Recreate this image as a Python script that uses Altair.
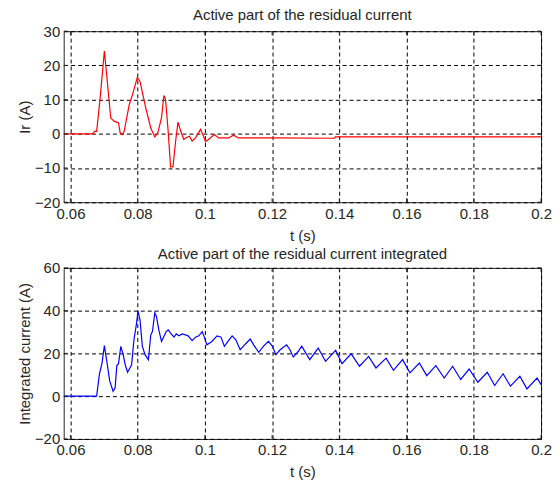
import altair as alt
import pandas as pd

# ---- data ----
t_ir = [0.058, 0.0666, 0.0672, 0.0678, 0.0688, 0.0701, 0.0720, 0.0730, 0.0743, 0.0748,
        0.0755, 0.0760, 0.0775, 0.0786, 0.0799, 0.0807, 0.0824, 0.0839, 0.0851, 0.0860,
        0.0871, 0.0878, 0.0883, 0.0890, 0.0898, 0.0905, 0.0913, 0.0920, 0.0928, 0.0937,
        0.0947, 0.0954, 0.0962, 0.0972, 0.0987, 0.0994, 0.1002, 0.1016, 0.1028, 0.1041,
        0.1055, 0.1070, 0.1085, 0.1100, 0.1200, 0.1385, 0.1388, 0.2]
ir = [0, 0, 0.7, 0.7, 10.0, 24.2, 4.6, 3.7, 3.2, 0.3,
      -0.2, 0.8, 8.5, 11.9, 16.5, 15.3, 7.6, 1.7, -0.9, 0.3,
      4.7, 11.2, 10.0, 1.7, -9.7, -9.7, -2.1, 3.4, 0.8, -1.6,
      -1.0, -0.7, -2.1, -1.2, 1.3, -0.2, -2.3, -1.2, -0.2, -1.2,
      -1.2, -1.2, -0.4, -1.2, -1.2, -1.3, -0.9, -0.9]

t_int = [0.058, 0.0678, 0.0686, 0.0694, 0.0701, 0.0709, 0.0717, 0.0727, 0.0733, 0.0738,
         0.0743, 0.0750, 0.0757, 0.0763, 0.0770, 0.0777, 0.0782, 0.0789, 0.0796, 0.0801,
         0.0807, 0.0814, 0.0822, 0.0832, 0.0839, 0.0844, 0.0851, 0.0856, 0.0863, 0.0871,
         0.0878, 0.0885, 0.0891, 0.0898, 0.0908, 0.0915, 0.0923, 0.0932, 0.0942, 0.0950,
         0.0962, 0.0972, 0.0982, 0.0992, 0.0997, 0.1006, 0.1021, 0.1036, 0.1048, 0.1058,
         0.1066, 0.1081, 0.1092, 0.1105, 0.1120, 0.1135, 0.1145, 0.1160, 0.1174, 0.1189,
         0.1201, 0.1211, 0.1224, 0.1243, 0.1253, 0.1263, 0.1278, 0.1288, 0.1312, 0.1337,
         0.1359, 0.1389, 0.1408, 0.1435, 0.1460, 0.1487, 0.1509, 0.1539, 0.1561, 0.1588,
         0.1610, 0.1638, 0.1660, 0.1687, 0.1712, 0.1737, 0.1761, 0.1786, 0.1812, 0.1840,
         0.1862, 0.1887, 0.1909, 0.1937, 0.1958, 0.1988, 0.2]
i_int = [0, 0, 10.1, 15.5, 23.6, 15.5, 7.0, 2.3, 3.9, 14.3,
         15.2, 23.3, 19.4, 14.7, 11.2, 13.2, 14.7, 26.4, 33.3, 39.8,
         35.7, 23.3, 19.4, 17.0, 28.7, 30.2, 39.0, 37.2, 31.0, 25.6,
         27.9, 30.2, 31.0, 29.5, 27.6, 29.1, 28.2, 29.1, 28.7, 28.2,
         26.0, 27.6, 28.2, 30.2, 28.2, 24.0, 25.6, 28.2, 27.6, 23.3,
         25.0, 28.2, 26.4, 21.7, 24.3, 26.7, 24.0, 20.5, 23.3, 25.6,
         23.3, 19.4, 21.7, 24.0, 21.7, 18.3, 21.0, 23.4, 17.1, 22.5,
         16.3, 21.4, 15.2, 19.8, 14.0, 18.6, 13.2, 17.8, 12.1, 17.1,
         10.9, 15.5, 9.6, 14.3, 8.5, 14.0, 7.8, 12.7, 6.5, 11.2,
         5.0, 10.5, 4.7, 9.3, 3.4, 8.5, 5.4]

x_ticks = [0.06, 0.08, 0.1, 0.12, 0.14, 0.16, 0.18, 0.2]
ir_ticks = [-20, -10, 0, 10, 20, 30]
int_ticks = [-20, 0, 20, 40, 60]

FONT = "Liberation Sans"
TXT = "#262626"
FRAME = "#262626"
W, H = 480, 172
FS = 15


def panel(t, v, color, ytitle, title, ydomain, yticks, title_offset):
    df = pd.DataFrame({"t": t, "v": v})
    xt = pd.DataFrame({"t": x_ticks})
    yt = pd.DataFrame({"v": yticks})
    x_enc = alt.X(
        "t:Q",
        scale=alt.Scale(domain=[0.058, 0.2], nice=False, zero=False),
        axis=alt.Axis(values=x_ticks, format="~g", title="t (s)",
                      titleX=W / 2, titleY=38, titleBaseline="alphabetic"),
    )
    y_enc = alt.Y(
        "v:Q",
        scale=alt.Scale(domain=ydomain, nice=False, zero=False),
        axis=alt.Axis(values=yticks, title=ytitle,
                      titleX=-34, titleY=H / 2, titleBaseline="alphabetic"),
    )
    line = alt.Chart(df).mark_line(color=color, strokeWidth=1.2, clip=True).encode(x=x_enc, y=y_enc)
    top = alt.Chart(xt).mark_rule(color=FRAME, strokeWidth=1).encode(x=x_enc, y=alt.value(0), y2=alt.value(4))
    bot = alt.Chart(xt).mark_rule(color=FRAME, strokeWidth=1).encode(x=x_enc, y=alt.value(H - 4), y2=alt.value(H))
    left = alt.Chart(yt).mark_rule(color=FRAME, strokeWidth=1).encode(y=y_enc, x=alt.value(0), x2=alt.value(4))
    right = alt.Chart(yt).mark_rule(color=FRAME, strokeWidth=1).encode(y=y_enc, x=alt.value(W - 4), x2=alt.value(W))
    return alt.layer(line, top, bot, left, right).properties(
        width=W, height=H,
        title=alt.TitleParams(title, offset=title_offset, baseline="alphabetic", frame="group",
                              fontSize=FS, font=FONT, fontWeight="normal", color=TXT),
    )


p1 = panel(t_ir, ir, "#ff0000", "Ir (A)", "Active part of the residual current",
           [-20, 30], ir_ticks, -11)
p2 = panel(t_int, i_int, "#0000ff", "Integrated current (A)",
           "Active part of the residual current integrated", [-20, 60], int_ticks, -12.7)

chart = alt.vconcat(p1, p2, spacing=66, bounds="flush").configure_view(
    stroke=FRAME, strokeWidth=1
).configure_axis(
    domain=False, ticks=False, grid=True, gridColor="black", gridDash=[4, 3],
    gridWidth=1, gridOpacity=1, labelFont=FONT, labelFontSize=FS, labelColor=TXT,
    titleFont=FONT, titleFontSize=FS, titleFontWeight="normal", titleColor=TXT,
    labelPadding=4, labelFlush=False, labelOverlap=False,
).properties(
    background="white",
    padding={"left": 9, "top": -2, "right": 0, "bottom": 0},
)

chart.save("out.html", embed_options={"renderer": "svg", "actions": False})
